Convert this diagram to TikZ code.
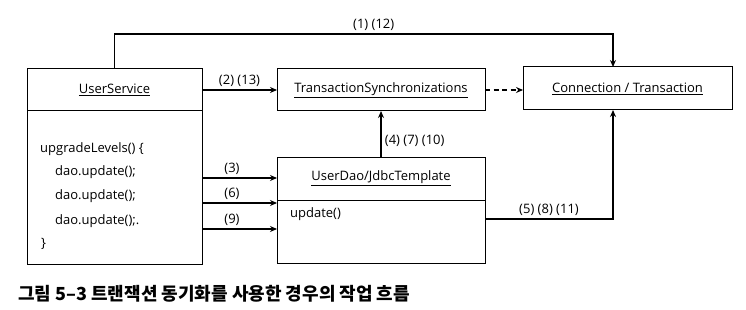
\documentclass[tikz,border=0pt]{standalone}
\usepackage{fontspec}
\setmainfont{Open Sans}
\newfontfamily\krfont{Noto Sans CJK KR}
\usetikzlibrary{positioning,arrows.meta}
\tikzset{
  box/.style={draw, line width=1pt, inner sep=0pt, outer sep=0pt, font=\fontsize{13}{15}\selectfont},
  code/.style={anchor=west, inner sep=0pt, font=\fontsize{13}{15}\selectfont},
  arr/.style={-{Stealth[length=7pt, width=6pt]}, line width=1.2pt},
  lab/.style={font=\fontsize{13}{15}\selectfont, midway}
}
\begin{document}
\begin{tikzpicture}[x=1pt, y=-1pt]
\useasboundingbox (0,0) rectangle (746,310);
\node[box, minimum width=175pt, minimum height=42pt] (ushead) at (114.5,90) {\underline{UserService}};
\node[box, minimum width=175pt, minimum height=153pt, below=0pt of ushead] (usbody) {};
\node[box, minimum width=208pt, minimum height=42pt] (ts) at (381,90) {\underline{TransactionSynchronizations}};
\node[box, minimum width=209pt, minimum height=43pt] (conn) at (627.5,88.5) {\underline{Connection / Transaction}};
\node[box, minimum width=208pt, minimum height=43pt] (udhead) at (381,178.5) {\underline{UserDao/JdbcTemplate}};
\node[box, minimum width=208pt, minimum height=63pt, below=0pt of udhead] (udbody) {};
% code lines
\node[code] (up) at (40,149) {upgradeLevels() \{};
\node[code] (dao1) at (55,172) {dao.update();};
\node[code] (dao2) at (55,196) {dao.update();};
\node[code] (dao3) at (55,221) {dao.update();.};
\node[code] (close) at (41,244) {\}};
\node[code] (upd) at (290,214) {update()};
% connectors
\draw[arr] (ushead.north) |- node[lab, above, pos=0.76]{(1) (12)} ([xshift=-14.5pt, yshift=33pt]conn.north) -- ([xshift=-14.5pt]conn.north);
\draw[arr] (ushead.east) -- node[lab, above]{(2) (13)} (ts.west);
\draw[arr, dash pattern=on 5pt off 3.5pt] (ts.east) -- (ts.east -| conn.west);
\draw[arr] (udhead.north) -- node[lab, right, pos=0.35]{(4) (7) (10)} (ts.south);
\draw[arr] (usbody.east |- 0,178) -- node[lab, above, pos=0.4]{(3)} (udhead.west |- 0,178);
\draw[arr] (usbody.east |- 0,203) -- node[lab, above, pos=0.4]{(6)} (udhead.west |- 0,203);
\draw[arr] (usbody.east |- 0,229) -- node[lab, above, pos=0.4]{(9)} (udhead.west |- 0,229);
\draw[arr] (udbody.east |- 0,219) -| node[lab, above, pos=0.25]{(5) (8) (11)} ([xshift=-14.5pt]conn.south);
% caption
\node[anchor=west, inner sep=0pt, font=\krfont\bfseries\fontsize{18}{21}\selectfont] (cap) at (18,294) {그림 5–3 트랜잭션 동기화를 사용한 경우의 작업 흐름};
\end{tikzpicture}
\end{document}
